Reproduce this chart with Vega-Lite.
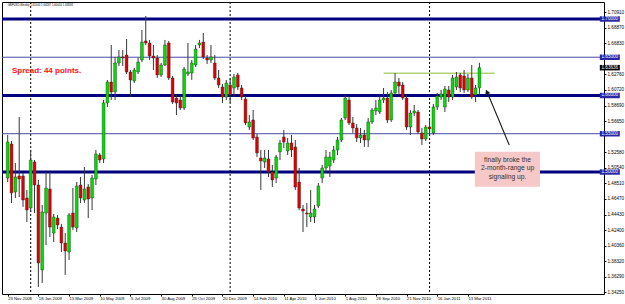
{
"$schema": "https://vega.github.io/schema/vega-lite/v6.json",
"width": 602, "height": 292,
"autosize": {"type": "none"},
"padding": {"left": 2, "top": 2, "right": 21, "bottom": 10},
"background": "#ffffff",
"config": {"view": {"stroke": "#000000", "strokeWidth": 1}, "font": "Liberation Sans", "axis": {"labelOverlap": false, "labelFlush": false, "labelBound": false}},
"datasets": {
"bars": [
{"d":"2008-11-23","o":1.4921,"c":1.5392,"h":1.5484,"l":1.4869},
{"d":"2008-11-30","o":1.5366,"c":1.4726,"h":1.5405,"l":1.4595},
{"d":"2008-12-07","o":1.4739,"c":1.4935,"h":1.5118,"l":1.4660},
{"d":"2008-12-14","o":1.4948,"c":1.4908,"h":1.5719,"l":1.4673},
{"d":"2008-12-21","o":1.4948,"c":1.4634,"h":1.4987,"l":1.4543},
{"d":"2008-12-28","o":1.4660,"c":1.4503,"h":1.4765,"l":1.4346},
{"d":"2009-01-04","o":1.4529,"c":1.5157,"h":1.5288,"l":1.4477},
{"d":"2009-01-11","o":1.5131,"c":1.4830,"h":1.5157,"l":1.4464},
{"d":"2009-01-18","o":1.4830,"c":1.3810,"h":1.4895,"l":1.3497},
{"d":"2009-01-25","o":1.3719,"c":1.4477,"h":1.4569,"l":1.3549},
{"d":"2009-02-01","o":1.4464,"c":1.4791,"h":1.5000,"l":1.4045},
{"d":"2009-02-08","o":1.4778,"c":1.4280,"h":1.5000,"l":1.4150},
{"d":"2009-02-15","o":1.4202,"c":1.4412,"h":1.4451,"l":1.4085},
{"d":"2009-02-22","o":1.4398,"c":1.4307,"h":1.4438,"l":1.4254},
{"d":"2009-03-01","o":1.4280,"c":1.4072,"h":1.4320,"l":1.3954},
{"d":"2009-03-08","o":1.4072,"c":1.3967,"h":1.4202,"l":1.3654},
{"d":"2009-03-15","o":1.3954,"c":1.4438,"h":1.4464,"l":1.3850},
{"d":"2009-03-22","o":1.4464,"c":1.4280,"h":1.4791,"l":1.4241},
{"d":"2009-03-29","o":1.4268,"c":1.4817,"h":1.4869,"l":1.4215},
{"d":"2009-04-05","o":1.4830,"c":1.4660,"h":1.4935,"l":1.4595},
{"d":"2009-04-12","o":1.4634,"c":1.4778,"h":1.5065,"l":1.4595},
{"d":"2009-04-19","o":1.4804,"c":1.4647,"h":1.4843,"l":1.4398},
{"d":"2009-04-26","o":1.4660,"c":1.4921,"h":1.4961,"l":1.4503},
{"d":"2009-05-03","o":1.4908,"c":1.5235,"h":1.5288,"l":1.4830},
{"d":"2009-05-10","o":1.5222,"c":1.5157,"h":1.5249,"l":1.5118},
{"d":"2009-05-17","o":1.5170,"c":1.5902,"h":1.5941,"l":1.5118},
{"d":"2009-05-24","o":1.5902,"c":1.6176,"h":1.6203,"l":1.5850},
{"d":"2009-05-31","o":1.6176,"c":1.6046,"h":1.6660,"l":1.5941},
{"d":"2009-06-07","o":1.6046,"c":1.6425,"h":1.6503,"l":1.5941},
{"d":"2009-06-14","o":1.6425,"c":1.6503,"h":1.6595,"l":1.6386},
{"d":"2009-06-21","o":1.6503,"c":1.6490,"h":1.6595,"l":1.6386},
{"d":"2009-06-28","o":1.6529,"c":1.6307,"h":1.6739,"l":1.6281},
{"d":"2009-07-05","o":1.6307,"c":1.6203,"h":1.6333,"l":1.5980},
{"d":"2009-07-12","o":1.6190,"c":1.6333,"h":1.6360,"l":1.6163},
{"d":"2009-07-19","o":1.6307,"c":1.6438,"h":1.6490,"l":1.6281},
{"d":"2009-07-26","o":1.6464,"c":1.6699,"h":1.6856,"l":1.6438},
{"d":"2009-08-02","o":1.6713,"c":1.6686,"h":1.7039,"l":1.6660},
{"d":"2009-08-09","o":1.6686,"c":1.6516,"h":1.6726,"l":1.6464},
{"d":"2009-08-16","o":1.6516,"c":1.6490,"h":1.6660,"l":1.6333},
{"d":"2009-08-23","o":1.6490,"c":1.6268,"h":1.6529,"l":1.6229},
{"d":"2009-08-30","o":1.6268,"c":1.6399,"h":1.6425,"l":1.6242},
{"d":"2009-09-06","o":1.6399,"c":1.6660,"h":1.6726,"l":1.6386},
{"d":"2009-09-13","o":1.6686,"c":1.6229,"h":1.6713,"l":1.6203},
{"d":"2009-09-20","o":1.6229,"c":1.5915,"h":1.6255,"l":1.5889},
{"d":"2009-09-27","o":1.5967,"c":1.5902,"h":1.6007,"l":1.5745},
{"d":"2009-10-04","o":1.5941,"c":1.5837,"h":1.5993,"l":1.5810},
{"d":"2009-10-11","o":1.5837,"c":1.6346,"h":1.6373,"l":1.5810},
{"d":"2009-10-18","o":1.6281,"c":1.6307,"h":1.6686,"l":1.6255},
{"d":"2009-10-25","o":1.6294,"c":1.6425,"h":1.6464,"l":1.6203},
{"d":"2009-11-01","o":1.6399,"c":1.6608,"h":1.6660,"l":1.6373},
{"d":"2009-11-08","o":1.6660,"c":1.6686,"h":1.6726,"l":1.6621},
{"d":"2009-11-15","o":1.6699,"c":1.6503,"h":1.6817,"l":1.6477},
{"d":"2009-11-22","o":1.6490,"c":1.6464,"h":1.6529,"l":1.6412},
{"d":"2009-11-29","o":1.6464,"c":1.6503,"h":1.6660,"l":1.6425},
{"d":"2009-12-06","o":1.6425,"c":1.6229,"h":1.6529,"l":1.6203},
{"d":"2009-12-13","o":1.6229,"c":1.6137,"h":1.6333,"l":1.6098},
{"d":"2009-12-20","o":1.6111,"c":1.5980,"h":1.6150,"l":1.5902},
{"d":"2009-12-27","o":1.5980,"c":1.6163,"h":1.6203,"l":1.5941},
{"d":"2010-01-03","o":1.6137,"c":1.6007,"h":1.6229,"l":1.5902},
{"d":"2010-01-10","o":1.6098,"c":1.6242,"h":1.6281,"l":1.5980},
{"d":"2010-01-17","o":1.6268,"c":1.6111,"h":1.6294,"l":1.6072},
{"d":"2010-01-24","o":1.6098,"c":1.5980,"h":1.6137,"l":1.5941},
{"d":"2010-01-31","o":1.5954,"c":1.5641,"h":1.5993,"l":1.5614},
{"d":"2010-02-07","o":1.5588,"c":1.5654,"h":1.5745,"l":1.5549},
{"d":"2010-02-14","o":1.5680,"c":1.5444,"h":1.5810,"l":1.5418},
{"d":"2010-02-21","o":1.5458,"c":1.5249,"h":1.5497,"l":1.5196},
{"d":"2010-02-28","o":1.5183,"c":1.5144,"h":1.5288,"l":1.4765},
{"d":"2010-03-07","o":1.5131,"c":1.5183,"h":1.5288,"l":1.5052},
{"d":"2010-03-14","o":1.5170,"c":1.5000,"h":1.5288,"l":1.4935},
{"d":"2010-03-21","o":1.5000,"c":1.4895,"h":1.5092,"l":1.4804},
{"d":"2010-03-28","o":1.4921,"c":1.5196,"h":1.5222,"l":1.4856},
{"d":"2010-04-04","o":1.5262,"c":1.5379,"h":1.5418,"l":1.5157},
{"d":"2010-04-11","o":1.5458,"c":1.5392,"h":1.5549,"l":1.5314},
{"d":"2010-04-18","o":1.5275,"c":1.5379,"h":1.5444,"l":1.5222},
{"d":"2010-04-25","o":1.5379,"c":1.5288,"h":1.5484,"l":1.5196},
{"d":"2010-05-02","o":1.5327,"c":1.4804,"h":1.5418,"l":1.4765},
{"d":"2010-05-09","o":1.4869,"c":1.4529,"h":1.5052,"l":1.4503},
{"d":"2010-05-16","o":1.4516,"c":1.4490,"h":1.4569,"l":1.4215},
{"d":"2010-05-23","o":1.4464,"c":1.4451,"h":1.4595,"l":1.4280},
{"d":"2010-05-30","o":1.4412,"c":1.4464,"h":1.4765,"l":1.4346},
{"d":"2010-06-06","o":1.4412,"c":1.4516,"h":1.4569,"l":1.4333},
{"d":"2010-06-13","o":1.4556,"c":1.4817,"h":1.4856,"l":1.4529},
{"d":"2010-06-20","o":1.4921,"c":1.5052,"h":1.5092,"l":1.4856},
{"d":"2010-06-27","o":1.5052,"c":1.5196,"h":1.5288,"l":1.4987},
{"d":"2010-07-04","o":1.5078,"c":1.5196,"h":1.5262,"l":1.4935},
{"d":"2010-07-11","o":1.5157,"c":1.5288,"h":1.5340,"l":1.5118},
{"d":"2010-07-18","o":1.5288,"c":1.5418,"h":1.5458,"l":1.5222},
{"d":"2010-07-25","o":1.5418,"c":1.5680,"h":1.5706,"l":1.5392},
{"d":"2010-08-01","o":1.5706,"c":1.5967,"h":1.6007,"l":1.5680},
{"d":"2010-08-08","o":1.5941,"c":1.5641,"h":1.5993,"l":1.5614},
{"d":"2010-08-15","o":1.5641,"c":1.5575,"h":1.5719,"l":1.5510},
{"d":"2010-08-22","o":1.5575,"c":1.5444,"h":1.5627,"l":1.5392},
{"d":"2010-08-29","o":1.5444,"c":1.5484,"h":1.5575,"l":1.5379},
{"d":"2010-09-05","o":1.5484,"c":1.5418,"h":1.5549,"l":1.5327},
{"d":"2010-09-12","o":1.5418,"c":1.5654,"h":1.5706,"l":1.5327},
{"d":"2010-09-19","o":1.5654,"c":1.5810,"h":1.5837,"l":1.5627},
{"d":"2010-09-26","o":1.5797,"c":1.5837,"h":1.5941,"l":1.5745},
{"d":"2010-10-03","o":1.5784,"c":1.5941,"h":1.6007,"l":1.5758},
{"d":"2010-10-10","o":1.5941,"c":1.5967,"h":1.6098,"l":1.5902},
{"d":"2010-10-17","o":1.5967,"c":1.5680,"h":1.6046,"l":1.5641},
{"d":"2010-10-24","o":1.5680,"c":1.6033,"h":1.6072,"l":1.5654},
{"d":"2010-10-31","o":1.6033,"c":1.6176,"h":1.6294,"l":1.6007},
{"d":"2010-11-07","o":1.6176,"c":1.6124,"h":1.6229,"l":1.6007},
{"d":"2010-11-14","o":1.6137,"c":1.5967,"h":1.6176,"l":1.5941},
{"d":"2010-11-21","o":1.5967,"c":1.5588,"h":1.6007,"l":1.5549},
{"d":"2010-11-28","o":1.5588,"c":1.5771,"h":1.5810,"l":1.5484},
{"d":"2010-12-05","o":1.5771,"c":1.5797,"h":1.5876,"l":1.5732},
{"d":"2010-12-12","o":1.5784,"c":1.5523,"h":1.5810,"l":1.5497},
{"d":"2010-12-19","o":1.5510,"c":1.5431,"h":1.5575,"l":1.5353},
{"d":"2010-12-26","o":1.5431,"c":1.5588,"h":1.5614,"l":1.5405},
{"d":"2011-01-02","o":1.5588,"c":1.5562,"h":1.5680,"l":1.5484},
{"d":"2011-01-09","o":1.5510,"c":1.5850,"h":1.5889,"l":1.5484},
{"d":"2011-01-16","o":1.5850,"c":1.5993,"h":1.6033,"l":1.5810},
{"d":"2011-01-23","o":1.5980,"c":1.6020,"h":1.6072,"l":1.5941},
{"d":"2011-01-30","o":1.5850,"c":1.6085,"h":1.6124,"l":1.5784},
{"d":"2011-02-06","o":1.6072,"c":1.5980,"h":1.6124,"l":1.5915},
{"d":"2011-02-13","o":1.5980,"c":1.6229,"h":1.6268,"l":1.5941},
{"d":"2011-02-20","o":1.6111,"c":1.6242,"h":1.6307,"l":1.6072},
{"d":"2011-02-27","o":1.6268,"c":1.6098,"h":1.6294,"l":1.6046},
{"d":"2011-03-06","o":1.6255,"c":1.6072,"h":1.6333,"l":1.6033},
{"d":"2011-03-13","o":1.6072,"c":1.6229,"h":1.6281,"l":1.6046},
{"d":"2011-03-20","o":1.6229,"c":1.5980,"h":1.6399,"l":1.5954},
{"d":"2011-03-27","o":1.6007,"c":1.6098,"h":1.6137,"l":1.5915},
{"d":"2011-04-03","o":1.6100,"c":1.63636,"h":1.64267,"l":1.6001}
],
"thick": [{"p":1.70},{"p":1.60},{"p":1.50}],
"thin": [{"p":1.65},{"p":1.55}],
"years": [{"d":"2009-01-04"},{"d":"2010-01-03"},{"d":"2011-01-02"}],
"range": [{"d":"2010-10-10T05:00:00Z","d2":"2011-05-01T00:00:00Z","p":1.629}],
"note": [{"d":"2011-03-25T13:00:00Z","d2":"2011-07-22T12:00:00Z","p":1.5265,"p2":1.4808}],
"noteText": [
{"d":"2011-05-24T07:00:00Z","p":1.5157,"t":"finally broke the"},
{"d":"2011-05-24T07:00:00Z","p":1.5048,"t":"2-month-range up"},
{"d":"2011-05-24T07:00:00Z","p":1.4939,"t":"signaling up."}
],
"arrow": [{"d":"2011-04-19T08:00:00Z","p":1.6007,"d2":"2011-05-27T10:00:00Z","p2":1.5353}],
"arrowHead": [{"d":"2011-04-16T16:00:00Z","p":1.6046}],
"spread": [{"d":"2008-11-30T17:00:00Z","p":1.632,"t":"Spread: 44 points."}],
"header": [{"d":"2008-11-23","p":1.7183,"t":"GBPUSD,Weekly  1.61000 1.64267 1.60010 1.63636"}],
"tags": [{"p":1.70,"t":"1.70000"},{"p":1.65,"t":"1.65000"},{"p":1.60,"t":"1.60000"},{"p":1.55,"t":"1.55000"},{"p":1.50,"t":"1.50000"}],
"lastTag": [{"p":1.63636,"t":"1.63636"}]
},
"layer": [
{
"data": {"name": "thin"},
"mark": {"type": "rule", "color": "#4a4aa8", "strokeWidth": 1},
"encoding": {
"y": {"field": "p", "type": "quantitative", "scale": {"domain": [1.3405, 1.7222], "zero": false, "nice": false},
"axis": {"orient": "right", "title": null, "domain": false, "grid": false, "tickSize": 2, "tickCount": 40, "tickColor": "#000", "labelPadding": 1, "labelFontSize": 4.6, "labelColor": "#000", "labelFont": "Liberation Sans", "format": ".5f", "labelOverlap": false, "labelFlush": false,
"values": [1.7091,1.6887,1.6683,1.6276,1.6072,1.5869,1.5665,1.5258,1.5054,1.4851,1.4647,1.4443,1.424,1.4036,1.3832,1.3629,1.3425]}}
}
},
{
"data": {"name": "thick"},
"mark": {"type": "rule", "color": "#000080", "strokeWidth": 3},
"encoding": {"y": {"field": "p", "type": "quantitative"}}
},
{
"data": {"name": "years"},
"mark": {"type": "rule", "color": "#000000", "strokeWidth": 1, "strokeDash": [2, 2]},
"encoding": {
"x": {"field": "d", "type": "temporal", "scale": {"type": "utc", "domain": [1227289846000, 1320645859000]},
"axis": {"title": null, "domain": false, "grid": false, "tickSize": 2, "tickCount": 40, "tickColor": "#000", "labelPadding": 0, "labelFontSize": 4.2, "labelColor": "#000", "labelAlign": "left", "labelBaseline": "top", "labelFlush": false, "labelOverlap": false, "format": "%-d %b %Y",
"values": [
{"year":2008,"month":11,"date":23,"utc":true},{"year":2009,"month":1,"date":18,"utc":true},{"year":2009,"month":3,"date":15,"utc":true},{"year":2009,"month":5,"date":10,"utc":true},{"year":2009,"month":7,"date":5,"utc":true},{"year":2009,"month":8,"date":30,"utc":true},{"year":2009,"month":10,"date":25,"utc":true},{"year":2009,"month":12,"date":20,"utc":true},{"year":2010,"month":2,"date":14,"utc":true},{"year":2010,"month":4,"date":11,"utc":true},{"year":2010,"month":6,"date":6,"utc":true},{"year":2010,"month":8,"date":1,"utc":true},{"year":2010,"month":9,"date":26,"utc":true},{"year":2010,"month":11,"date":21,"utc":true},{"year":2011,"month":1,"date":16,"utc":true},{"year":2011,"month":3,"date":13,"utc":true}]}}
}
},
{
"data": {"name": "range"},
"mark": {"type": "rule", "color": "#b0d474", "strokeWidth": 1.6},
"encoding": {
"x": {"field": "d", "type": "temporal"},
"x2": {"field": "d2"},
"y": {"field": "p", "type": "quantitative"}
}
},
{
"data": {"name": "bars"},
"mark": {"type": "rule", "color": "#383838", "strokeWidth": 1},
"encoding": {
"x": {"field": "d", "type": "temporal"},
"y": {"field": "l", "type": "quantitative"},
"y2": {"field": "h"}
}
},
{
"data": {"name": "bars"},
"mark": {"type": "bar", "width": 2.8, "stroke": "#202020", "strokeWidth": 0.4},
"encoding": {
"x": {"field": "d", "type": "temporal"},
"y": {"field": "o", "type": "quantitative"},
"y2": {"field": "c"},
"color": {"condition": {"test": "datum.c >= datum.o", "value": "#00e000"}, "value": "#e00000"}
}
},
{
"data": {"name": "note"},
"mark": {"type": "rect", "color": "#f6c8c8"},
"encoding": {
"x": {"field": "d", "type": "temporal"},
"x2": {"field": "d2"},
"y": {"field": "p", "type": "quantitative"},
"y2": {"field": "p2"}
}
},
{
"data": {"name": "noteText"},
"mark": {"type": "text", "align": "center", "baseline": "middle", "fontSize": 6.7, "color": "#303030"},
"encoding": {
"x": {"field": "d", "type": "temporal"},
"y": {"field": "p", "type": "quantitative"},
"text": {"field": "t"}
}
},
{
"data": {"name": "arrow"},
"mark": {"type": "rule", "color": "#1a1a1a", "strokeWidth": 1.1},
"encoding": {
"x": {"field": "d", "type": "temporal"},
"x2": {"field": "d2"},
"y": {"field": "p", "type": "quantitative"},
"y2": {"field": "p2"}
}
},
{
"data": {"name": "arrowHead"},
"mark": {"type": "point", "shape": "triangle-up", "filled": true, "size": 30, "angle": 337, "color": "#1a1a1a", "opacity": 1},
"encoding": {
"x": {"field": "d", "type": "temporal"},
"y": {"field": "p", "type": "quantitative"}
}
},
{
"data": {"name": "spread"},
"mark": {"type": "text", "align": "left", "baseline": "middle", "fontSize": 8, "fontWeight": "bold", "color": "#ff1010"},
"encoding": {
"x": {"field": "d", "type": "temporal"},
"y": {"field": "p", "type": "quantitative"},
"text": {"field": "t"}
}
},
{
"data": {"name": "header"},
"mark": {"type": "text", "align": "left", "baseline": "middle", "fontSize": 2.8, "color": "#000000"},
"encoding": {
"x": {"field": "d", "type": "temporal"},
"y": {"field": "p", "type": "quantitative"},
"text": {"field": "t"}
}
},
{
"data": {"name": "tags"},
"mark": {"type": "rect", "width": 20, "height": 5.5, "color": "#2626a6"},
"encoding": {
"x": {"datum": {"year": 2011, "month": 11, "date": 27, "utc": true}, "type": "temporal"},
"y": {"field": "p", "type": "quantitative"}
}
},
{
"data": {"name": "tags"},
"mark": {"type": "text", "align": "center", "baseline": "middle", "fontSize": 4.6, "color": "#ffffff"},
"encoding": {
"x": {"datum": {"year": 2011, "month": 11, "date": 27, "utc": true}, "type": "temporal"},
"y": {"field": "p", "type": "quantitative"},
"text": {"field": "t"}
}
},
{
"data": {"name": "lastTag"},
"mark": {"type": "rect", "width": 20, "height": 5.5, "color": "#000000"},
"encoding": {
"x": {"datum": {"year": 2011, "month": 11, "date": 27, "utc": true}, "type": "temporal"},
"y": {"field": "p", "type": "quantitative"}
}
},
{
"data": {"name": "lastTag"},
"mark": {"type": "text", "align": "center", "baseline": "middle", "fontSize": 4.6, "color": "#ffffff"},
"encoding": {
"x": {"datum": {"year": 2011, "month": 11, "date": 27, "utc": true}, "type": "temporal"},
"y": {"field": "p", "type": "quantitative"},
"text": {"field": "t"}
}
}
]
}
